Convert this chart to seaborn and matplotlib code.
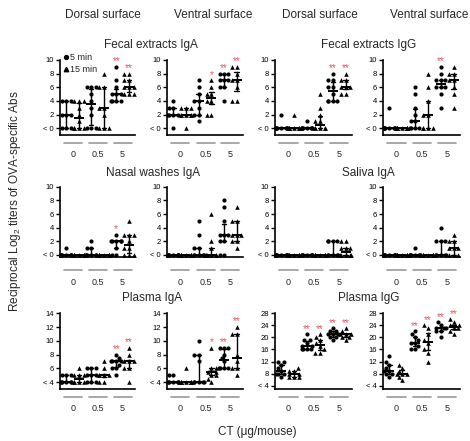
import warnings
warnings.filterwarnings("ignore")
import numpy as np
import pandas as pd
import matplotlib
matplotlib.use("Agg")
import matplotlib.pyplot as plt
from matplotlib.lines import Line2D
import seaborn as sns

sns.set_theme(style="ticks")
plt.rcParams["font.family"] = ["Liberation Sans", "DejaVu Sans"]
plt.rcParams["mathtext.fontset"] = "custom"
plt.rcParams["mathtext.rm"] = "Liberation Sans"
plt.rcParams["mathtext.it"] = "Liberation Sans:italic"

# ---------------- data ----------------
doses = ["0", "0.5", "5"]
times = ["5 min", "15 min"]
col_headers = ["Dorsal surface", "Ventral surface", "Dorsal surface", "Ventral surface"]
row_titles = ["Fecal extracts IgA", "Fecal extracts IgG", "Nasal washes IgA",
              "Saliva IgA", "Plasma IgA", "Plasma IgG"]

# groups: 0/5min, 0/15min, 0.5/5min, 0.5/15min, 5/5min, 5/15min
fecal_iga_dorsal = [
    [4, 4, 4, 2, 2, 2, 0, 0, 0],
    [4, 4, 4, 3, 2, 1, 0, 0, 0, 0],
    [6, 6, 6, 5, 4, 3, 2, 0, 0, 0],
    [8, 6, 6, 3, 3, 2, 0, 0, 0],
    [9, 7, 6, 5, 5, 5, 4, 4, 4, 4],
    [8, 8, 7, 7, 6, 6, 6, 5, 5, 5],
]
fecal_iga_ventral = [
    [4, 3, 3, 2, 2, 2, 2, 0],
    [3, 3, 3, 2, 2, 2, 2, 2, 0],
    [7, 6, 5, 4, 4, 3, 2, 2, 1],
    [7, 6, 5, 5, 4, 4, 2, 2],
    [8, 8, 8, 7, 7, 7, 6, 6, 4],
    [9, 9, 8, 7, 7, 6, 4, 4],
]
fecal_igg_dorsal = [
    [2, 0, 0, 0, 0, 0, 0, 0, 0],
    [2, 0, 0, 0, 0, 0, 0, 0, 0],
    [1, 0, 0, 0, 0, 0, 0, 0, 0],
    [5, 3, 2, 1, 1, 0, 0, 0, 0, 0],
    [8, 7, 7, 6, 6, 5, 4, 4, 4, 4],
    [8, 7, 7, 6, 6, 6, 5, 5],
]
fecal_igg_ventral = [
    [3, 0, 0, 0, 0, 0, 0, 0, 0],
    [0, 0, 0, 0, 0, 0, 0, 0, 0],
    [6, 5, 3, 2, 1, 1, 0, 0, 0, 0],
    [8, 6, 4, 2, 2, 0, 0, 0, 0],
    [9, 8, 7, 7, 7, 6, 6, 6, 5, 3],
    [9, 8, 8, 7, 7, 6, 5, 3],
]
nasal_iga_dorsal = [
    [1, 0, 0, 0, 0, 0, 0, 0, 0],
    [0, 0, 0, 0, 0, 0, 0, 0, 0],
    [2, 1, 1, 0, 0, 0, 0, 0, 0],
    [0, 0, 0, 0, 0, 0, 0, 0, 0],
    [3, 2, 2, 2, 2, 2, 1, 0, 0],
    [5, 3, 3, 3, 2, 1, 1, 0, 0, 0],
]
nasal_iga_ventral = [
    [0, 0, 0, 0, 0, 0, 0, 0, 0],
    [0, 0, 0, 0, 0, 0, 0, 0, 0],
    [5, 3, 1, 1, 0, 0, 0, 0, 0],
    [6, 2, 1, 0, 0, 0, 0, 0, 0],
    [8, 7, 5, 3, 3, 3, 2, 2, 0, 0],
    [7, 5, 5, 3, 3, 3, 2, 2, 1],
]
saliva_iga_dorsal = [
    [0, 0, 0, 0, 0, 0, 0, 0, 0],
    [0, 0, 0, 0, 0, 0, 0, 0, 0],
    [0, 0, 0, 0, 0, 0, 0, 0, 0],
    [0, 0, 0, 0, 0, 0, 0, 0, 0],
    [2, 2, 2, 2, 0, 0, 0, 0, 0],
    [2, 2, 1, 1, 1, 0, 0, 0, 0, 0],
]
saliva_iga_ventral = [
    [0, 0, 0, 0, 0, 0, 0, 0, 0],
    [0, 0, 0, 0, 0, 0, 0, 0, 0],
    [1, 0, 0, 0, 0, 0, 0, 0, 0],
    [0, 0, 0, 0, 0, 0, 0, 0, 0],
    [4, 2, 2, 2, 0, 0, 0, 0, 0],
    [3, 2, 2, 1, 1, 1, 0, 0, 0],
]
plasma_iga_dorsal = [
    [5, 5, 5, 4, 4, 4, 4, 4, 4],
    [6, 5, 5, 5, 4, 4, 4, 4],
    [6, 6, 6, 5, 5, 5, 4, 4, 4],
    [7, 6, 5, 5, 5, 5, 4, 4],
    [8, 7.5, 7, 7, 7, 7, 6.5, 6, 6, 5],
    [9, 8, 7, 7, 7, 6, 6, 4],
]
plasma_iga_ventral = [
    [5, 5, 4, 4, 4, 4, 4, 4, 4],
    [6, 4, 4, 4, 4, 4, 4, 4, 4],
    [10, 8, 8, 7, 4, 4, 4, 4, 4],
    [9, 6, 6, 5.5, 5.5, 5, 5, 4.5, 4],
    [9, 9, 9, 8, 7.5, 7, 6, 6, 6, 6],
    [12, 11, 11, 8, 7, 6, 6, 5],
]
plasma_igg_dorsal = [
    [12, 12, 11, 10, 9, 8, 8, 8, 7],
    [10, 9, 9, 8, 8, 7, 7, 7],
    [21, 19, 19, 18, 17, 17, 16, 16, 16, 16],
    [21, 20, 19, 18, 17, 16, 15, 15],
    [23, 22, 22, 21, 21, 21, 20, 20, 19],
    [23, 22, 21, 21, 21, 20, 20, 19],
]
plasma_igg_ventral = [
    [14, 12, 11, 10, 9, 9, 8, 8, 7],
    [11, 10, 9, 8, 8, 8, 7, 6],
    [22, 21, 20, 19, 18, 18, 17, 16, 16],
    [24, 23, 21, 19, 18, 16, 15, 12],
    [25, 24, 23, 23, 23, 22, 22, 20],
    [26, 25, 24, 24, 23, 23, 22, 21],
]

stars_fecal_iga_dorsal = ["", "", "", "", "**", "**"]
stars_fecal_iga_ventral = ["", "", "", "*", "**", "**"]
stars_fecal_igg_dorsal = ["", "", "", "", "**", "**"]
stars_fecal_igg_ventral = ["", "", "", "", "**", ""]
stars_nasal_iga_dorsal = ["", "", "", "", "*", ""]
stars_nasal_iga_ventral = ["", "", "", "", "", ""]
stars_saliva_iga_dorsal = ["", "", "", "", "", ""]
stars_saliva_iga_ventral = ["", "", "", "", "", ""]
stars_plasma_iga_dorsal = ["", "", "", "", "**", "**"]
stars_plasma_iga_ventral = ["", "", "", "*", "**", "**"]
stars_plasma_igg_dorsal = ["", "", "**", "**", "**", "**"]
stars_plasma_igg_ventral = ["", "", "**", "**", "**", "**"]

ticks_0_10 = [0, 2, 4, 6, 8, 10]
labels_0_10 = ["< 0", "2", "4", "6", "8", "10"]
ticks_4_14 = [4, 6, 8, 10, 12, 14]
labels_4_14 = ["< 4", "6", "8", "10", "12", "14"]
ticks_4_28 = [4, 8, 12, 16, 20, 24, 28]
labels_4_28 = ["< 4", "8", "12", "16", "20", "24", "28"]

# ---------------- layout ----------------
W, H = 470, 441
fig = plt.figure(figsize=(W / 100, H / 100), dpi=100)

col_x = [(60, 135), (167, 243), (275, 352), (383, 460)]
row_y = [(60, 135), (186.7, 256.7), (313.3, 389)]
grey_gap = [8, 13.5, 8]      # px below axis for dose lines
label_pad = [11, 15.5, 11]   # pt

panels = [
    (0, 0, fecal_iga_dorsal, stars_fecal_iga_dorsal, ticks_0_10, labels_0_10, (-1, 10)),
    (0, 1, fecal_iga_ventral, stars_fecal_iga_ventral, ticks_0_10, labels_0_10, (-1, 10)),
    (0, 2, fecal_igg_dorsal, stars_fecal_igg_dorsal, ticks_0_10, labels_0_10, (-1, 10)),
    (0, 3, fecal_igg_ventral, stars_fecal_igg_ventral, ticks_0_10, labels_0_10, (-1, 10)),
    (1, 0, nasal_iga_dorsal, stars_nasal_iga_dorsal, ticks_0_10, labels_0_10, (-0.25, 10)),
    (1, 1, nasal_iga_ventral, stars_nasal_iga_ventral, ticks_0_10, labels_0_10, (-0.25, 10)),
    (1, 2, saliva_iga_dorsal, stars_saliva_iga_dorsal, ticks_0_10, labels_0_10, (-0.25, 10)),
    (1, 3, saliva_iga_ventral, stars_saliva_iga_ventral, ticks_0_10, labels_0_10, (-0.25, 10)),
    (2, 0, plasma_iga_dorsal, stars_plasma_iga_dorsal, ticks_4_14, labels_4_14, (3, 14)),
    (2, 1, plasma_iga_ventral, stars_plasma_iga_ventral, ticks_4_14, labels_4_14, (3, 14)),
    (2, 2, plasma_igg_dorsal, stars_plasma_igg_dorsal, ticks_4_28, labels_4_28, (2.9, 28)),
    (2, 3, plasma_igg_ventral, stars_plasma_igg_ventral, ticks_4_28, labels_4_28, (2.9, 28)),
]

order = [f"{d}|{t}" for d in doses for t in times]
red = "#ea5560"


def iqr(v):
    return (np.percentile(v, 25), np.percentile(v, 75))


for r, c, groups, stars, yt, yl, ylim in panels:
    x0, x1 = col_x[c]
    y0, y1 = row_y[r]
    ax = fig.add_axes([x0 / W, 1 - y1 / H, (x1 - x0) / W, (y1 - y0) / H])
    rows = []
    for gi, vals in enumerate(groups):
        for v in vals:
            rows.append({"group": order[gi], "time": times[gi % 2], "value": v})
    df = pd.DataFrame(rows)
    for t, m, s in [(times[0], "o", 3.0), (times[1], "^", 3.3)]:
        sns.swarmplot(data=df[df["time"] == t], x="group", y="value", order=order,
                      color="black", marker=m, size=s, linewidth=0, ax=ax,
                      clip_on=False, warn_thresh=1)
    sns.pointplot(data=df, x="group", y="value", order=order, estimator="median",
                  errorbar=iqr, color="black", markers="_", linestyles="none",
                  markersize=7.5, markeredgewidth=1.4, capsize=0.35,
                  err_kws={"linewidth": 1.0}, ax=ax)
    for gi, st in enumerate(stars):
        if st:
            ax.annotate(st, xy=(gi, max(groups[gi])), xytext=(0, 1.8),
                        textcoords="offset points", ha="center", va="baseline",
                        color=red, fontsize=7, annotation_clip=False)
    ax.set_xlim(-0.5, 5.5)
    ax.set_ylim(*ylim)
    ax.set_yticks(yt)
    ax.set_yticklabels(yl, fontsize=5.5)
    centers = [0.55, 2.55, 4.5]
    ax.set_xticks(centers)
    ax.set_xticklabels(doses, fontsize=6.5)
    ax.tick_params(axis="x", length=0, pad=label_pad[r])
    ax.tick_params(axis="y", length=3, width=1, pad=1.5, colors="black")
    ax.set_xlabel("")
    ax.set_ylabel("")
    sns.despine(ax=ax)
    for sp in ["left", "bottom"]:
        ax.spines[sp].set_linewidth(1.2)
        ax.spines[sp].set_color("black")
    gy = -grey_gap[r] / (y1 - y0)
    for cx in centers:
        ax.plot([cx - 0.72, cx + 0.72], [gy, gy], color="#9a9a9a", lw=1.2,
                transform=ax.get_xaxis_transform(), clip_on=False)
    if r == 0 and c == 0:
        handles = [Line2D([], [], marker="o", color="black", ls="none", markersize=2.8),
                   Line2D([], [], marker="^", color="black", ls="none", markersize=3.2)]
        ax.legend(handles, times, loc="upper left", bbox_to_anchor=(0.04, 1.09),
                  frameon=False, fontsize=6.5, handlelength=0.6, handletextpad=0.2,
                  labelspacing=0.3, borderaxespad=0, borderpad=0)

# headers and titles
for x, t in zip([103, 213, 320, 429], col_headers):
    fig.text(x / W, 1 - 15 / H, t, ha="center", va="center", fontsize=8.5)
title_pos = [(151, 45), (369, 45), (153, 173), (368, 173), (152, 298), (369, 298)]
for (x, y), t in zip(title_pos, row_titles):
    fig.text(x / W, 1 - y / H, t, ha="center", va="center", fontsize=8.5)

fig.text(15 / W, 1 - 201 / H, "Reciprocal Log$_2$ titers of OVA-specific Abs",
         rotation=90, ha="center", va="center", fontsize=8.5)
fig.text(257 / W, 1 - 432 / H, "CT (\u03bcg/mouse)", ha="center", va="center",
         fontsize=8.5)

fig.savefig("out.png", dpi=100)
